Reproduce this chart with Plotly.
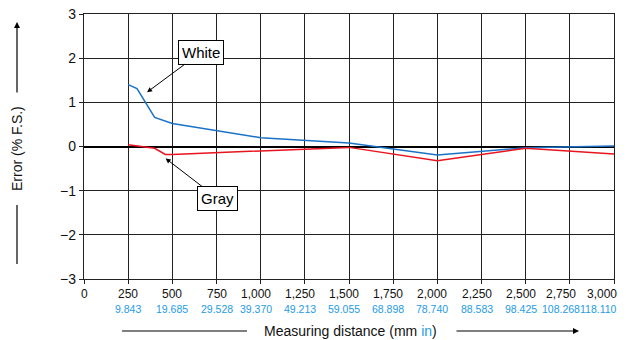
import plotly.graph_objects as go

# Data
white_x = [250, 300, 400, 500, 1000, 1500, 2000, 2500, 3000]
white_y = [1.40, 1.31, 0.66, 0.52, 0.20, 0.08, -0.19, -0.03, 0.01]
gray_x = [250, 400, 460, 500, 1500, 2000, 2500, 3000]
gray_y = [0.04, -0.04, -0.18, -0.18, -0.02, -0.32, -0.04, -0.17]

x_ticks = [0, 250, 500, 750, 1000, 1250, 1500, 1750, 2000, 2250, 2500, 2750, 3000]
mm_labels = ["0", "250", "500", "750", "1,000", "1,250", "1,500", "1,750", "2,000",
             "2,250", "2,500", "2,750", "3,000"]
in_labels = ["", "9.843", "19.685", "29.528", "39.370", "49.213", "59.055", "68.898",
             "78.740", "88.583", "98.425", "108.268", "118.110"]
y_ticks = [-3, -2, -1, 0, 1, 2, 3]

BLUE_TXT = "#1e9be6"
OFF = 8                      # page body margin
W, H = 626 - OFF, 340 - OFF
L, R, T, B = 84 - OFF, 12, 14 - OFF, 61
PW, PH = W - L - R, H - T - B

def px(x):
    """reference-screenshot x pixel -> paper coordinate"""
    return (x - OFF - L) / PW

def py(y):
    """reference-screenshot y pixel -> paper coordinate"""
    return (H - B - (y - OFF)) / PH

fig = go.Figure()
fig.add_trace(go.Scatter(x=white_x, y=white_y, mode="lines",
                         line=dict(color="#1a72c6", width=1.5), showlegend=False))
fig.add_trace(go.Scatter(x=gray_x, y=gray_y, mode="lines",
                         line=dict(color="#e8141e", width=1.5), showlegend=False))

font_main = dict(family="Liberation Sans, Arial, sans-serif", size=14, color="#111")
font_tick = dict(family="Liberation Sans, Arial, sans-serif", size=12, color="#111")
font_in = dict(family="Liberation Sans, Arial, sans-serif", size=10.5, color=BLUE_TXT)

axis_common = dict(showgrid=True, gridcolor="#222", gridwidth=1.3,
                   ticks="outside", ticklen=4, tickcolor="#222", tickwidth=1.3,
                   showline=True, mirror=True, linecolor="#222", linewidth=1.3,
                   automargin=False, fixedrange=True)

fig.update_layout(
    width=W, height=H,
    margin=dict(l=L, r=R, t=T, b=B, pad=0),
    plot_bgcolor="white", paper_bgcolor="white",
    xaxis=dict(range=[0, 3000], tickvals=x_ticks, showticklabels=False,
               zeroline=False, **axis_common),
    yaxis=dict(range=[-3, 3], tickvals=y_ticks, tickfont=font_main,
               ticklabeloverflow="allow",
               zeroline=True, zerolinecolor="#000", zerolinewidth=1.6, **axis_common),
)

ann = []
# x tick labels (mm, and inch in blue)
last = x_ticks[-1]
for k, (v, m, i) in enumerate(zip(x_ticks, mm_labels, in_labels)):
    if v == last:
        pos = dict(xanchor="right", xshift=5)
    elif k == len(x_ticks) - 2:
        pos = dict(xanchor="center", xshift=-9)
    else:
        pos = dict(xanchor="center", xshift=-5 if v >= 1000 else 0)
    ann.append(dict(x=v, y=py(294), xref="x", yref="paper", text=m, showarrow=False,
                    font=font_tick, yanchor="middle", **pos))
    if i:
        ann.append(dict(x=v, y=py(309), xref="x", yref="paper", text=i, showarrow=False,
                        font=font_in, yanchor="middle", **pos))

# White / Gray callouts
box_font = dict(family="Liberation Sans, Arial", size=15, color="#000")
ann.append(dict(x=357, y=1.23, xref="x", yref="y", text="White", showarrow=True,
                arrowhead=2, arrowsize=1, arrowwidth=1, arrowcolor="#000",
                ax=54, ay=-40, bgcolor="white", bordercolor="#000", borderwidth=1,
                borderpad=3, font=box_font))
ann.append(dict(x=462, y=-0.27, xref="x", yref="y", text="Gray", showarrow=True,
                arrowhead=2, arrowsize=1, arrowwidth=1, arrowcolor="#000",
                ax=52, ay=40, bgcolor="white", bordercolor="#000", borderwidth=1,
                borderpad=3, font=box_font))

# Y axis title with arrow
ann.append(dict(x=px(17), y=py(149), xref="paper", yref="paper", text="Error (% F.S.)",
                textangle=-90, showarrow=False, font=font_main,
                xanchor="center", yanchor="middle"))
ann.append(dict(x=px(17), y=py(22), xref="paper", yref="paper", text="", showarrow=True,
                arrowhead=2, arrowsize=1, arrowwidth=1.2, arrowcolor="#000",
                ax=0, ay=72))
fig.add_shape(type="line", xref="paper", yref="paper", x0=px(17), x1=px(17),
              y0=py(205), y1=py(264), line=dict(color="#000", width=1.2))

# X axis title with arrow
ann.append(dict(x=px(350), y=py(331), xref="paper", yref="paper",
                text=f"Measuring distance (mm <span style='color:{BLUE_TXT}'>in</span>)",
                showarrow=False, font=font_main, xanchor="center", yanchor="middle"))
fig.add_shape(type="line", xref="paper", yref="paper", x0=px(122), x1=px(247),
              y0=py(331), y1=py(331), line=dict(color="#000", width=1.2))
ann.append(dict(x=px(579), y=py(331), xref="paper", yref="paper", text="", showarrow=True,
                arrowhead=2, arrowsize=1, arrowwidth=1.2, arrowcolor="#000",
                ax=-124, ay=0))

fig.update_layout(annotations=ann)
fig.write_html("out.html")
